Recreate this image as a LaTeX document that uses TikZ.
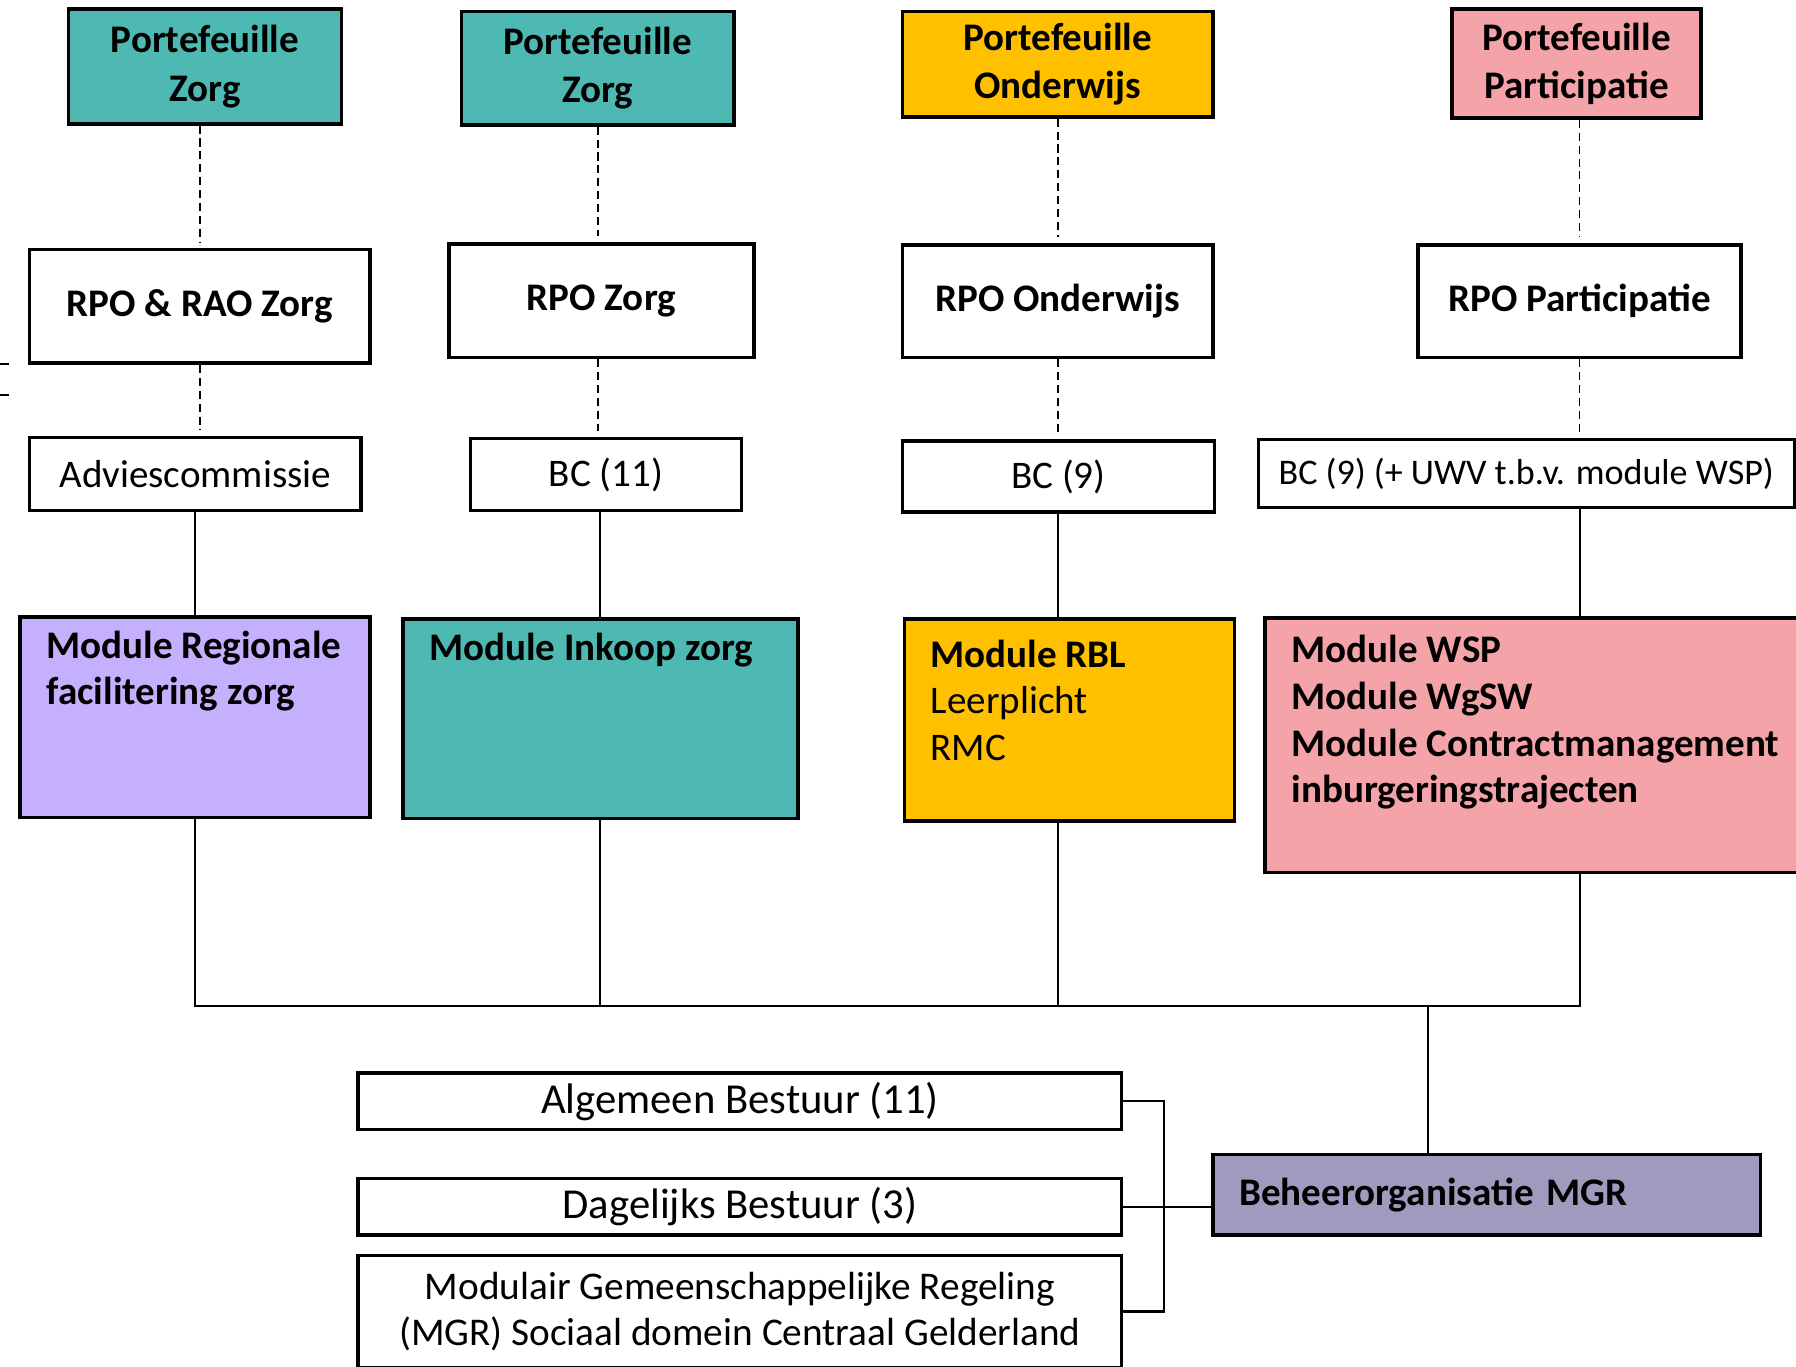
\documentclass[tikz,border=0pt]{standalone}
\usepackage{fontspec}
\setmainfont{Carlito}
\usepackage{tikz}

\definecolor{zorgteal}{RGB}{78,185,179}
\definecolor{onderwijsgoud}{RGB}{255,192,0}
\definecolor{partroze}{RGB}{244,163,168}
\definecolor{regiolila}{RGB}{197,176,254}
\definecolor{beheerpaars}{RGB}{162,154,190}

\begin{document}
\begin{tikzpicture}[x=0.01cm,y=-0.01cm,
    portf/.style={draw, line width=0.9pt, align=center, inner sep=0pt, font=\fontsize{9.7}{12}\selectfont\bfseries},
    rpo/.style={draw, line width=0.9pt, fill=white, inner sep=0pt, font=\fontsize{9.7}{11.6}\selectfont\bfseries},
    bc/.style={draw, line width=0.8pt, fill=white, inner sep=0pt, font=\fontsize{9.7}{11.6}\selectfont},
    module/.style={draw, line width=0.9pt, anchor=north west, inner xsep=0.23cm, inner ysep=0.12cm, font=\fontsize{9.7}{11.6}\selectfont},
    bestuur/.style={draw, line width=0.9pt, fill=white, align=center, inner sep=0pt, minimum width=6.66cm, font=\fontsize{10.6}{11.7}\selectfont},
    dashline/.style={line width=0.4pt, dash pattern=on 2pt off 1.2pt, shorten >=1.5pt},
    solidline/.style={line width=0.5pt}]
    \clip (0,0) rectangle (1568,1193);
    \fill[white] (0,0) rectangle (1568,1193);

    \node[portf, fill=zorgteal, minimum width=2.38cm, minimum height=1cm] (pz1) at (179,58) {Portefeuille\\Zorg};
    \node[portf, fill=zorgteal, minimum width=2.38cm, minimum height=0.99cm] (pz2) at (522,59.5) {Portefeuille\\Zorg};
    \node[portf, fill=onderwijsgoud, minimum width=2.71cm, minimum height=0.92cm] (po) at (923.5,56) {Portefeuille\\Onderwijs};
    \node[portf, fill=partroze, minimum width=2.17cm, minimum height=0.95cm] (pp) at (1376.5,55.5) {Portefeuille\\Participatie};

    \node[rpo, minimum width=2.97cm, minimum height=0.99cm] (rpo1) at (174.5,267.5) {RPO \& RAO Zorg};
    \node[rpo, minimum width=2.66cm, minimum height=0.99cm] (rpo2) at (525,262.5) {RPO Zorg};
    \node[rpo, minimum width=2.71cm, minimum height=0.98cm] (rpoo) at (923.5,263) {RPO Onderwijs};
    \node[rpo, minimum width=2.82cm, minimum height=0.98cm] (rpop) at (1379,263) {RPO Participatie};

    \node[bc, minimum width=2.89cm, minimum height=0.64cm] (adv) at (170.5,414) {Adviescommissie};
    \node[bc, minimum width=2.36cm, minimum height=0.63cm] (bc11) at (529,414.5) {BC (11)};
    \node[bc, minimum width=2.72cm, minimum height=0.62cm] (bc9) at (924,416) {BC (9)};
    \node[bc, anchor=west, minimum width=4.68cm, minimum height=0.59cm, font=\fontsize{8.95}{11}\selectfont] (bcp) at (1097,413.5) {BC (9) (+ UWV t.b.v. module WSP)};

    \node[module, fill=regiolila] (reg) at (16,537) {\parbox[t][1.51cm][t]{2.59cm}{\bfseries Module Regionale\\facilitering zorg}};
    \node[module, fill=zorgteal] (ink) at (350,539) {\parbox[t][1.5cm][t]{2.99cm}{\bfseries Module Inkoop zorg}};
    \node[module, fill=onderwijsgoud] (rbl) at (788,539) {\parbox[t][1.52cm][t]{2.42cm}{\vspace*{0.06cm}\textbf{Module RBL}\\Leerplicht\\RMC}};
    \node[module, fill=partroze] (wsp) at (1103,538) {\parbox[t][1.98cm][t]{4.8cm}{\vspace*{0.03cm}\bfseries Module WSP\\Module WgSW\\Module Contractmanagement\\inburgeringstrajecten}};

    \node[draw, line width=0.9pt, fill=beheerpaars, inner xsep=0.23cm, inner ysep=0pt, text width=4.32cm, minimum height=0.7cm, align=left, font=\fontsize{9.7}{11.6}\selectfont\bfseries] (beh) at (1298,1043) {Beheerorganisatie MGR};

    \node[bestuur, minimum height=0.49cm] (ab) at (646,961.5) {Algemeen Bestuur (11)};
    \node[bestuur, minimum height=0.49cm] (db) at (646,1053.5) {Dagelijks Bestuur (3)};
    \node[bestuur, minimum height=0.98cm, font=\fontsize{9.75}{11.6}\selectfont] (mgr) at (646,1145) {Modulair Gemeenschappelijke Regeling\\(MGR) Sociaal domein Centraal Gelderland};

    \draw[dashline] (rpo1.north |- pz1.south) -- (rpo1.north);
    \draw[dashline] (rpo1.south) -- (rpo1.south |- adv.north);
    \draw[solidline] (adv.south) -- (adv.south |- reg.north);
    \draw[dashline] (pz2.south) -- (pz2.south |- rpo2.north);
    \draw[dashline] (pz2.south |- rpo2.south) -- (pz2.south |- bc11.north);
    \draw[solidline] (ink.north |- bc11.south) -- (ink.north);
    \draw[dashline] (po.south) -- (po.south |- rpoo.north);
    \draw[dashline] (rpoo.south) -- (rpoo.south |- bc9.north);
    \draw[solidline] (bc9.south) -- (bc9.south |- rbl.north);
    \draw[dashline] (rpop.north |- pp.south) -- (rpop.north);
    \draw[dashline] (rpop.south) -- (rpop.south |- bcp.north);
    \draw[solidline] (rpop.south |- bcp.south) -- (rpop.south |- wsp.north);

    \coordinate (bus) at (0,878);
    \coordinate (drop) at (1247,878);
    \coordinate (brk) at (1016,0);
    \draw[solidline] (reg.south) -- (reg.south |- bus) -- (rpop.south |- bus) -- (rpop.south |- wsp.south);
    \draw[solidline] (ink.south) -- (ink.south |- bus);
    \draw[solidline] (bc9.south |- rbl.south) -- (bc9.south |- bus);
    \draw[solidline] (drop) -- (drop |- beh.north);
    \draw[solidline] (ab.east) -- (ab.east -| brk) -- (mgr.east -| brk) -- (mgr.east);
    \draw[solidline] (db.east) -- (db.east -| beh.west);

    \draw[solidline] (0,318) -- (8,318);
    \draw[solidline] (0,345) -- (8,345);
\end{tikzpicture}
\end{document}
